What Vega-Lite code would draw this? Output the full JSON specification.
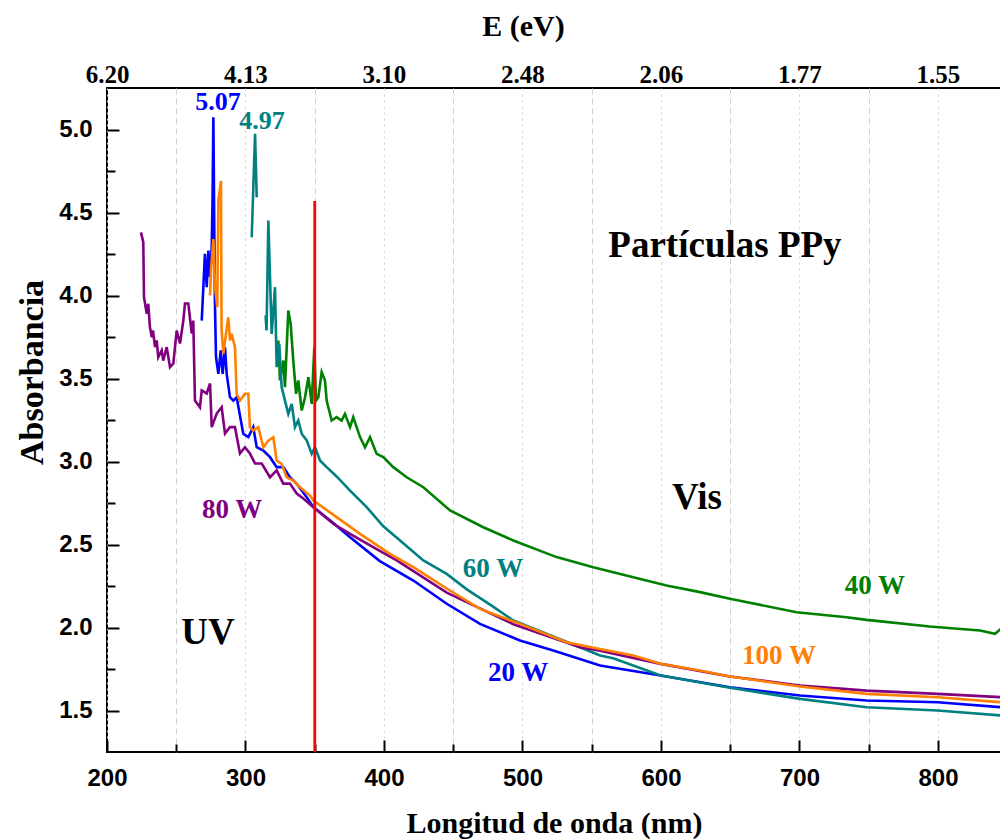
{
  "$schema": "https://vega.github.io/schema/vega-lite/v6.json",
  "width": 894,
  "height": 664,
  "autosize": {"type": "none"},
  "padding": {"left": 107, "top": 88, "right": 0, "bottom": 87},
  "background": "white",
  "config": {"view": {"stroke": "black", "strokeWidth": 2}},
  "resolve": {"axis": {"x": "independent", "y": "independent"}},
  "datasets": {
    "spectra": [
      {"series":"20 W","seg":"20a","nm":268.4,"A":3.849},
      {"series":"20 W","seg":"20a","nm":270.7,"A":4.251},
      {"series":"20 W","seg":"20a","nm":272.0,"A":4.050},
      {"series":"20 W","seg":"20a","nm":273.2,"A":4.271},
      {"series":"20 W","seg":"20a","nm":274.4,"A":4.110},
      {"series":"20 W","seg":"20a","nm":275.6,"A":4.291},
      {"series":"20 W","seg":"20a","nm":276.2,"A":4.570},
      {"series":"20 W","seg":"20a","nm":276.8,"A":5.074},
      {"series":"20 W","seg":"20a","nm":277.9,"A":3.970},
      {"series":"20 W","seg":"20a","nm":278.7,"A":3.628},
      {"series":"20 W","seg":"20a","nm":280.4,"A":3.528},
      {"series":"20 W","seg":"20a","nm":282.1,"A":3.669},
      {"series":"20 W","seg":"20a","nm":283.5,"A":3.528},
      {"series":"20 W","seg":"20a","nm":285.2,"A":3.689},
      {"series":"20 W","seg":"20a","nm":286.4,"A":3.528},
      {"series":"20 W","seg":"20a","nm":288.8,"A":3.387},
      {"series":"20 W","seg":"20a","nm":291.2,"A":3.367},
      {"series":"20 W","seg":"20a","nm":293.6,"A":3.387},
      {"series":"20 W","seg":"20a","nm":298.4,"A":3.167},
      {"series":"20 W","seg":"20a","nm":302.0,"A":3.147},
      {"series":"20 W","seg":"20a","nm":305.6,"A":3.207},
      {"series":"20 W","seg":"20a","nm":308.1,"A":3.086},
      {"series":"20 W","seg":"20a","nm":312.9,"A":3.066},
      {"series":"20 W","seg":"20a","nm":317.7,"A":3.026},
      {"series":"20 W","seg":"20a","nm":322.5,"A":2.966},
      {"series":"20 W","seg":"20a","nm":327.3,"A":2.966},
      {"series":"20 W","seg":"20a","nm":332.1,"A":2.905},
      {"series":"20 W","seg":"20a","nm":337.0,"A":2.866},
      {"series":"20 W","seg":"20a","nm":344.2,"A":2.785},
      {"series":"20 W","seg":"20a","nm":349.0,"A":2.725},
      {"series":"20 W","seg":"20a","nm":363.4,"A":2.630},
      {"series":"20 W","seg":"20a","nm":375.5,"A":2.544},
      {"series":"20 W","seg":"20a","nm":397.0,"A":2.400},
      {"series":"20 W","seg":"20a","nm":421.2,"A":2.283},
      {"series":"20 W","seg":"20a","nm":445.3,"A":2.143},
      {"series":"20 W","seg":"20a","nm":469.3,"A":2.022},
      {"series":"20 W","seg":"20a","nm":498.2,"A":1.922},
      {"series":"20 W","seg":"20a","nm":522.2,"A":1.861},
      {"series":"20 W","seg":"20a","nm":556.0,"A":1.771},
      {"series":"20 W","seg":"20a","nm":599.8,"A":1.711},
      {"series":"20 W","seg":"20a","nm":649.8,"A":1.640},
      {"series":"20 W","seg":"20a","nm":700.4,"A":1.590},
      {"series":"20 W","seg":"20a","nm":748.5,"A":1.560},
      {"series":"20 W","seg":"20a","nm":799.8,"A":1.550},
      {"series":"20 W","seg":"20a","nm":845.5,"A":1.520},

      {"series":"40 W","seg":"40a","nm":323.7,"A":3.729},
      {"series":"40 W","seg":"40a","nm":324.9,"A":3.488},
      {"series":"40 W","seg":"40a","nm":327.3,"A":3.608},
      {"series":"40 W","seg":"40a","nm":328.5,"A":3.448},
      {"series":"40 W","seg":"40a","nm":330.9,"A":3.910},
      {"series":"40 W","seg":"40a","nm":332.6,"A":3.830},
      {"series":"40 W","seg":"40a","nm":334.5,"A":3.608},
      {"series":"40 W","seg":"40a","nm":336.5,"A":3.408},
      {"series":"40 W","seg":"40a","nm":338.1,"A":3.488},
      {"series":"40 W","seg":"40a","nm":340.6,"A":3.307},
      {"series":"40 W","seg":"40a","nm":343.0,"A":3.387},
      {"series":"40 W","seg":"40a","nm":345.4,"A":3.508},
      {"series":"40 W","seg":"40a","nm":347.8,"A":3.347},
      {"series":"40 W","seg":"40a","nm":349.7,"A":3.689},
      {"series":"40 W","seg":"40a","nm":350.9,"A":3.367},
      {"series":"40 W","seg":"40a","nm":352.6,"A":3.387},
      {"series":"40 W","seg":"40a","nm":355.0,"A":3.538},
      {"series":"40 W","seg":"40a","nm":357.4,"A":3.488},
      {"series":"40 W","seg":"40a","nm":358.6,"A":3.367},
      {"series":"40 W","seg":"40a","nm":362.2,"A":3.247},
      {"series":"40 W","seg":"40a","nm":365.8,"A":3.267},
      {"series":"40 W","seg":"40a","nm":369.4,"A":3.247},
      {"series":"40 W","seg":"40a","nm":371.8,"A":3.287},
      {"series":"40 W","seg":"40a","nm":375.5,"A":3.207},
      {"series":"40 W","seg":"40a","nm":377.8,"A":3.267},
      {"series":"40 W","seg":"40a","nm":382.7,"A":3.147},
      {"series":"40 W","seg":"40a","nm":386.3,"A":3.086},
      {"series":"40 W","seg":"40a","nm":389.9,"A":3.147},
      {"series":"40 W","seg":"40a","nm":394.7,"A":3.046},
      {"series":"40 W","seg":"40a","nm":399.5,"A":3.026},
      {"series":"40 W","seg":"40a","nm":406.7,"A":2.966},
      {"series":"40 W","seg":"40a","nm":416.4,"A":2.905},
      {"series":"40 W","seg":"40a","nm":428.4,"A":2.845},
      {"series":"40 W","seg":"40a","nm":447.7,"A":2.705},
      {"series":"40 W","seg":"40a","nm":471.7,"A":2.604},
      {"series":"40 W","seg":"40a","nm":493.4,"A":2.524},
      {"series":"40 W","seg":"40a","nm":524.6,"A":2.424},
      {"series":"40 W","seg":"40a","nm":551.1,"A":2.363},
      {"series":"40 W","seg":"40a","nm":580.0,"A":2.303},
      {"series":"40 W","seg":"40a","nm":604.0,"A":2.253},
      {"series":"40 W","seg":"40a","nm":628.2,"A":2.213},
      {"series":"40 W","seg":"40a","nm":649.8,"A":2.173},
      {"series":"40 W","seg":"40a","nm":697.9,"A":2.092},
      {"series":"40 W","seg":"40a","nm":734.0,"A":2.062},
      {"series":"40 W","seg":"40a","nm":748.5,"A":2.046},
      {"series":"40 W","seg":"40a","nm":794.0,"A":2.006},
      {"series":"40 W","seg":"40a","nm":830.3,"A":1.982},
      {"series":"40 W","seg":"40a","nm":841.2,"A":1.962},
      {"series":"40 W","seg":"40a","nm":845.5,"A":1.992},

      {"series":"60 W","seg":"60a","nm":304.5,"A":4.351},
      {"series":"60 W","seg":"60a","nm":306.9,"A":4.974},
      {"series":"60 W","seg":"60a","nm":308.1,"A":4.592},
      {"series":"60 W","seg":"60b","nm":314.5,"A":3.880},
      {"series":"60 W","seg":"60b","nm":315.2,"A":3.789},
      {"series":"60 W","seg":"60b","nm":316.5,"A":4.452},
      {"series":"60 W","seg":"60b","nm":318.9,"A":3.769},
      {"series":"60 W","seg":"60b","nm":321.3,"A":4.050},
      {"series":"60 W","seg":"60b","nm":322.5,"A":3.568},
      {"series":"60 W","seg":"60b","nm":324.4,"A":3.709},
      {"series":"60 W","seg":"60b","nm":326.1,"A":3.448},
      {"series":"60 W","seg":"60b","nm":328.5,"A":3.367},
      {"series":"60 W","seg":"60b","nm":330.9,"A":3.287},
      {"series":"60 W","seg":"60b","nm":333.4,"A":3.347},
      {"series":"60 W","seg":"60b","nm":335.7,"A":3.207},
      {"series":"60 W","seg":"60b","nm":338.1,"A":3.247},
      {"series":"60 W","seg":"60b","nm":340.6,"A":3.167},
      {"series":"60 W","seg":"60b","nm":344.2,"A":3.127},
      {"series":"60 W","seg":"60b","nm":347.8,"A":3.046},
      {"series":"60 W","seg":"60b","nm":350.2,"A":3.086},
      {"series":"60 W","seg":"60b","nm":353.8,"A":3.006},
      {"series":"60 W","seg":"60b","nm":358.6,"A":2.966},
      {"series":"60 W","seg":"60b","nm":365.8,"A":2.910},
      {"series":"60 W","seg":"60b","nm":375.5,"A":2.825},
      {"series":"60 W","seg":"60b","nm":387.5,"A":2.725},
      {"series":"60 W","seg":"60b","nm":399.5,"A":2.610},
      {"series":"60 W","seg":"60b","nm":411.6,"A":2.524},
      {"series":"60 W","seg":"60b","nm":428.4,"A":2.404},
      {"series":"60 W","seg":"60b","nm":445.3,"A":2.323},
      {"series":"60 W","seg":"60b","nm":459.8,"A":2.230},
      {"series":"60 W","seg":"60b","nm":478.0,"A":2.130},
      {"series":"60 W","seg":"60b","nm":493.4,"A":2.042},
      {"series":"60 W","seg":"60b","nm":529.4,"A":1.922},
      {"series":"60 W","seg":"60b","nm":556.0,"A":1.831},
      {"series":"60 W","seg":"60b","nm":565.5,"A":1.815},
      {"series":"60 W","seg":"60b","nm":599.8,"A":1.711},
      {"series":"60 W","seg":"60b","nm":649.8,"A":1.637},
      {"series":"60 W","seg":"60b","nm":700.4,"A":1.570},
      {"series":"60 W","seg":"60b","nm":748.5,"A":1.520},
      {"series":"60 W","seg":"60b","nm":799.8,"A":1.500},
      {"series":"60 W","seg":"60b","nm":845.5,"A":1.470},

      {"series":"80 W","seg":"80a","nm":224.5,"A":4.380},
      {"series":"80 W","seg":"80a","nm":226.2,"A":4.321},
      {"series":"80 W","seg":"80a","nm":226.7,"A":3.990},
      {"series":"80 W","seg":"80a","nm":228.7,"A":3.890},
      {"series":"80 W","seg":"80a","nm":229.8,"A":3.950},
      {"series":"80 W","seg":"80a","nm":231.0,"A":3.809},
      {"series":"80 W","seg":"80a","nm":232.3,"A":3.749},
      {"series":"80 W","seg":"80a","nm":233.2,"A":3.789},
      {"series":"80 W","seg":"80a","nm":234.7,"A":3.689},
      {"series":"80 W","seg":"80a","nm":235.9,"A":3.729},
      {"series":"80 W","seg":"80a","nm":237.0,"A":3.628},
      {"series":"80 W","seg":"80a","nm":239.5,"A":3.669},
      {"series":"80 W","seg":"80a","nm":240.6,"A":3.608},
      {"series":"80 W","seg":"80a","nm":243.1,"A":3.689},
      {"series":"80 W","seg":"80a","nm":245.5,"A":3.568},
      {"series":"80 W","seg":"80a","nm":247.9,"A":3.590},
      {"series":"80 W","seg":"80a","nm":250.3,"A":3.789},
      {"series":"80 W","seg":"80a","nm":252.7,"A":3.711},
      {"series":"80 W","seg":"80a","nm":255.1,"A":3.849},
      {"series":"80 W","seg":"80a","nm":256.3,"A":3.952},
      {"series":"80 W","seg":"80a","nm":258.7,"A":3.952},
      {"series":"80 W","seg":"80a","nm":261.2,"A":3.771},
      {"series":"80 W","seg":"80a","nm":262.3,"A":3.849},
      {"series":"80 W","seg":"80a","nm":263.5,"A":3.367},
      {"series":"80 W","seg":"80a","nm":267.1,"A":3.327},
      {"series":"80 W","seg":"80a","nm":268.4,"A":3.428},
      {"series":"80 W","seg":"80a","nm":272.0,"A":3.410},
      {"series":"80 W","seg":"80a","nm":274.4,"A":3.470},
      {"series":"80 W","seg":"80a","nm":275.6,"A":3.207},
      {"series":"80 W","seg":"80a","nm":279.2,"A":3.289},
      {"series":"80 W","seg":"80a","nm":282.8,"A":3.327},
      {"series":"80 W","seg":"80a","nm":285.2,"A":3.169},
      {"series":"80 W","seg":"80a","nm":288.8,"A":3.207},
      {"series":"80 W","seg":"80a","nm":292.4,"A":3.207},
      {"series":"80 W","seg":"80a","nm":296.0,"A":3.048},
      {"series":"80 W","seg":"80a","nm":299.6,"A":3.086},
      {"series":"80 W","seg":"80a","nm":303.2,"A":3.048},
      {"series":"80 W","seg":"80a","nm":306.9,"A":2.988},
      {"series":"80 W","seg":"80a","nm":311.7,"A":2.988},
      {"series":"80 W","seg":"80a","nm":317.7,"A":2.905},
      {"series":"80 W","seg":"80a","nm":322.5,"A":2.946},
      {"series":"80 W","seg":"80a","nm":327.3,"A":2.867},
      {"series":"80 W","seg":"80a","nm":332.1,"A":2.867},
      {"series":"80 W","seg":"80a","nm":337.0,"A":2.807},
      {"series":"80 W","seg":"80a","nm":341.7,"A":2.777},
      {"series":"80 W","seg":"80a","nm":349.0,"A":2.725},
      {"series":"80 W","seg":"80a","nm":363.4,"A":2.625},
      {"series":"80 W","seg":"80a","nm":375.5,"A":2.564},
      {"series":"80 W","seg":"80a","nm":395.0,"A":2.470},
      {"series":"80 W","seg":"80a","nm":409.2,"A":2.404},
      {"series":"80 W","seg":"80a","nm":445.3,"A":2.210},
      {"series":"80 W","seg":"80a","nm":493.4,"A":2.020},
      {"series":"80 W","seg":"80a","nm":541.5,"A":1.881},
      {"series":"80 W","seg":"80a","nm":556.0,"A":1.860},
      {"series":"80 W","seg":"80a","nm":599.8,"A":1.781},
      {"series":"80 W","seg":"80a","nm":649.8,"A":1.705},
      {"series":"80 W","seg":"80a","nm":700.4,"A":1.651},
      {"series":"80 W","seg":"80a","nm":748.5,"A":1.620},
      {"series":"80 W","seg":"80a","nm":799.8,"A":1.600},
      {"series":"80 W","seg":"80a","nm":845.5,"A":1.580},

      {"series":"100 W","seg":"100a","nm":274.4,"A":4.000},
      {"series":"100 W","seg":"100a","nm":275.1,"A":4.150},
      {"series":"100 W","seg":"100a","nm":276.8,"A":4.340},
      {"series":"100 W","seg":"100a","nm":278.0,"A":4.050},
      {"series":"100 W","seg":"100a","nm":279.6,"A":3.930},
      {"series":"100 W","seg":"100a","nm":280.4,"A":4.570},
      {"series":"100 W","seg":"100a","nm":282.3,"A":4.690},
      {"series":"100 W","seg":"100a","nm":282.7,"A":3.800},
      {"series":"100 W","seg":"100a","nm":284.0,"A":3.649},
      {"series":"100 W","seg":"100a","nm":287.6,"A":3.869},
      {"series":"100 W","seg":"100a","nm":288.8,"A":3.729},
      {"series":"100 W","seg":"100a","nm":290.0,"A":3.769},
      {"series":"100 W","seg":"100a","nm":292.4,"A":3.689},
      {"series":"100 W","seg":"100a","nm":293.6,"A":3.408},
      {"series":"100 W","seg":"100a","nm":296.0,"A":3.367},
      {"series":"100 W","seg":"100a","nm":299.6,"A":3.408},
      {"series":"100 W","seg":"100a","nm":302.0,"A":3.408},
      {"series":"100 W","seg":"100a","nm":303.2,"A":3.207},
      {"series":"100 W","seg":"100a","nm":305.6,"A":3.187},
      {"series":"100 W","seg":"100a","nm":309.2,"A":3.207},
      {"series":"100 W","seg":"100a","nm":312.9,"A":3.086},
      {"series":"100 W","seg":"100a","nm":316.5,"A":3.126},
      {"series":"100 W","seg":"100a","nm":320.1,"A":3.146},
      {"series":"100 W","seg":"100a","nm":322.5,"A":3.006},
      {"series":"100 W","seg":"100a","nm":326.1,"A":2.986},
      {"series":"100 W","seg":"100a","nm":329.7,"A":2.905},
      {"series":"100 W","seg":"100a","nm":334.5,"A":2.885},
      {"series":"100 W","seg":"100a","nm":339.4,"A":2.845},
      {"series":"100 W","seg":"100a","nm":346.6,"A":2.795},
      {"series":"100 W","seg":"100a","nm":349.0,"A":2.765},
      {"series":"100 W","seg":"100a","nm":365.8,"A":2.665},
      {"series":"100 W","seg":"100a","nm":382.7,"A":2.564},
      {"series":"100 W","seg":"100a","nm":397.0,"A":2.484},
      {"series":"100 W","seg":"100a","nm":404.3,"A":2.444},
      {"series":"100 W","seg":"100a","nm":421.2,"A":2.364},
      {"series":"100 W","seg":"100a","nm":445.3,"A":2.235},
      {"series":"100 W","seg":"100a","nm":469.3,"A":2.112},
      {"series":"100 W","seg":"100a","nm":498.2,"A":2.022},
      {"series":"100 W","seg":"100a","nm":531.8,"A":1.911},
      {"series":"100 W","seg":"100a","nm":556.0,"A":1.870},
      {"series":"100 W","seg":"100a","nm":580.0,"A":1.831},
      {"series":"100 W","seg":"100a","nm":599.8,"A":1.781},
      {"series":"100 W","seg":"100a","nm":628.2,"A":1.741},
      {"series":"100 W","seg":"100a","nm":649.8,"A":1.705},
      {"series":"100 W","seg":"100a","nm":700.4,"A":1.645},
      {"series":"100 W","seg":"100a","nm":748.5,"A":1.600},
      {"series":"100 W","seg":"100a","nm":799.8,"A":1.580},
      {"series":"100 W","seg":"100a","nm":845.5,"A":1.550}
    ],
    "marker": [{"nm": 350, "A": 1.25, "A1": 4.57}],
    "serieslabels": [
      {"label":"80 W","series":"80 W","nm":290.3,"A":2.705},
      {"label":"60 W","series":"60 W","nm":478.7,"A":2.355},
      {"label":"40 W","series":"40 W","nm":754.5,"A":2.253},
      {"label":"100 W","series":"100 W","nm":685.2,"A":1.831},
      {"label":"20 W","series":"20 W","nm":496.8,"A":1.723}
    ],
    "peaklabels": [
      {"label":"5.07","series":"20 W","nm":280.1,"A":5.163},
      {"label":"4.97","series":"60 W","nm":311.9,"A":5.054}
    ],
    "regionlabels": [
      {"label":"Partículas PPy","nm":646.2,"A":4.301},
      {"label":"Vis","nm":626.0,"A":2.783},
      {"label":"UV","nm":272.9,"A":1.964}
    ]
  },
  "layer": [
    {
      "data": {"name": "spectra"},
      "mark": {"type": "line", "strokeWidth": 2.6, "clip": true},
      "encoding": {
        "x": {
          "field": "nm", "type": "quantitative",
          "scale": {"domain": [200, 845.5], "nice": false, "zero": false},
          "axis": {
            "orient": "bottom", "offset": -12,
            "values": [200,300,400,500,600,700,800],
            "labelFont": "Liberation Sans", "labelFontWeight": "bold", "labelFontSize": 24, "labelColor": "black",
            "labelFlush": false, "labelOverlap": false,
            "ticks": true, "tickSize": 12, "tickColor": "black", "tickWidth": 2,
            "labelPadding": 14,
            "domain": false,
            "grid": true, "gridColor": "#d0d0d0", "gridWidth": 1, "gridDash": [2, 4],
            "title": "Longitud de onda (nm)",
            "titleFont": "Liberation Serif", "titleFontSize": 30, "titleFontWeight": "bold", "titleColor": "black",
            "titleY": 92, "titleBaseline": "alphabetic"
          }
        },
        "y": {
          "field": "A", "type": "quantitative",
          "scale": {"domain": [1.25, 5.25], "nice": false, "zero": false},
          "axis": {
            "orient": "left", "offset": -12,
            "values": [1.5, 2.0, 2.5, 3.0, 3.5, 4.0, 4.5, 5.0],
            "format": ".1f",
            "labelFont": "Liberation Sans", "labelFontWeight": "bold", "labelFontSize": 24, "labelColor": "black",
            "labelFlush": false, "labelOverlap": false,
            "ticks": true, "tickSize": 12, "tickColor": "black", "tickWidth": 2,
            "labelPadding": 15,
            "domain": false,
            "grid": false,
            "title": "Absorbancia",
            "titleFont": "Liberation Serif", "titleFontSize": 34, "titleFontWeight": "bold", "titleColor": "black",
            "titleX": -77, "titleY": 284, "titleBaseline": "alphabetic"
          }
        },
        "color": {
          "field": "series", "type": "nominal",
          "scale": {"domain": ["20 W","40 W","60 W","80 W","100 W"], "range": ["#0000FF","#008000","#008080","#800080","#FF8000"]},
          "legend": null
        },
        "detail": {"field": "seg"}
      }
    },
    {
      "data": {"name": "marker"},
      "mark": {"type": "rule", "color": "#FF0000", "strokeWidth": 2.8},
      "encoding": {
        "x": {
          "field": "nm", "type": "quantitative",
          "scale": {"domain": [200, 845.5], "nice": false, "zero": false},
          "axis": {
            "orient": "top",
            "values": [200,300,400,500,600,700,800],
            "labelExpr": "format(floor(124000 / datum.value) / 100, '.2f')",
            "labelFont": "Liberation Serif", "labelFontWeight": "bold", "labelFontSize": 25, "labelColor": "black",
            "labelFlush": false, "labelOverlap": false, "labelBaseline": "alphabetic",
            "ticks": false, "labelPadding": 6,
            "domain": false,
            "grid": false,
            "title": "E (eV)",
            "titleFont": "Liberation Serif", "titleFontSize": 30, "titleFontWeight": "bold", "titleColor": "black",
            "titleX": 416, "titleY": -53, "titleBaseline": "alphabetic"
          }
        },
        "y": {
          "field": "A", "type": "quantitative",
          "scale": {"domain": [1.25, 5.25], "nice": false, "zero": false},
          "axis": {
            "orient": "left", "offset": -8,
            "values": [1.75, 2.25, 2.75, 3.25, 3.75, 4.25, 4.75],
            "labels": false, "domain": false, "grid": false, "title": null,
            "ticks": true, "tickSize": 8, "tickColor": "black", "tickWidth": 2
          }
        },
        "y2": {"field": "A1"}
      }
    },
    {
      "data": {"name": "serieslabels"},
      "mark": {"type": "text", "font": "Liberation Serif", "fontWeight": "bold", "fontSize": 27, "align": "center", "baseline": "middle"},
      "encoding": {
        "x": {"field": "nm", "type": "quantitative", "scale": {"domain": [200, 845.5], "nice": false, "zero": false}, "axis": null},
        "y": {"field": "A", "type": "quantitative", "scale": {"domain": [1.25, 5.25], "nice": false, "zero": false}, "axis": null},
        "text": {"field": "label"},
        "color": {
          "field": "series", "type": "nominal",
          "scale": {"domain": ["20 W","40 W","60 W","80 W","100 W"], "range": ["#0000FF","#008000","#008080","#800080","#FF8000"]},
          "legend": null
        }
      }
    },
    {
      "data": {"name": "peaklabels"},
      "mark": {"type": "text", "font": "Liberation Serif", "fontWeight": "bold", "fontSize": 26, "align": "center", "baseline": "middle"},
      "encoding": {
        "x": {"field": "nm", "type": "quantitative", "scale": {"domain": [200, 845.5], "nice": false, "zero": false}, "axis": null},
        "y": {"field": "A", "type": "quantitative", "scale": {"domain": [1.25, 5.25], "nice": false, "zero": false}, "axis": null},
        "text": {"field": "label"},
        "color": {
          "field": "series", "type": "nominal",
          "scale": {"domain": ["20 W","40 W","60 W","80 W","100 W"], "range": ["#0000FF","#008000","#008080","#800080","#FF8000"]},
          "legend": null
        }
      }
    },
    {
      "data": {"name": "regionlabels"},
      "mark": {"type": "text", "font": "Liberation Serif", "fontWeight": "bold", "fontSize": 37, "align": "center", "baseline": "middle", "color": "black"},
      "encoding": {
        "x": {
          "field": "nm", "type": "quantitative",
          "scale": {"domain": [200, 845.5], "nice": false, "zero": false},
          "axis": {
            "orient": "bottom", "offset": -8,
            "values": [250, 350, 450, 550, 650, 750],
            "labels": false, "domain": false, "title": null,
            "ticks": true, "tickSize": 8, "tickColor": "black", "tickWidth": 2,
            "grid": true, "gridColor": "#d0d0d0", "gridWidth": 1, "gridDash": [6, 4]
          }
        },
        "y": {"field": "A", "type": "quantitative", "scale": {"domain": [1.25, 5.25], "nice": false, "zero": false}, "axis": null},
        "text": {"field": "label"}
      }
    }
  ]
}
